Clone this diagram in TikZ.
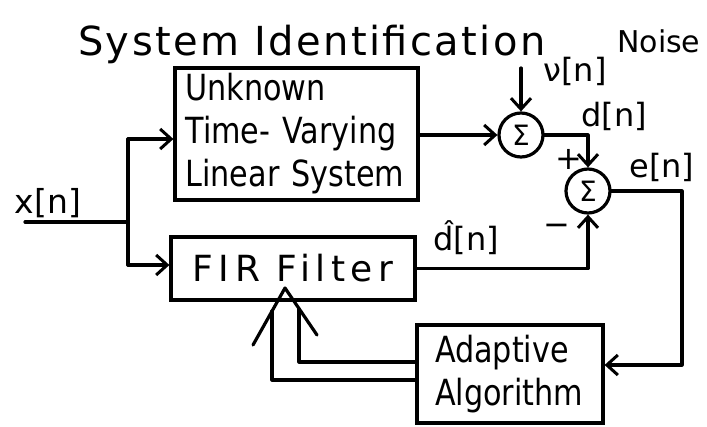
\documentclass[tikz,border=0pt]{standalone}
\usepackage{fontspec}
\setmainfont{DejaVu Sans}
\newfontfamily\narrowfont[FakeStretch=0.84]{DejaVu Sans}
\usetikzlibrary{arrows.meta}

\begin{document}
\begin{tikzpicture}[x=1pt,y=-1pt,
  wire/.style={line width=3.2pt, line cap=round, line join=round},
  flow/.style={wire, -{Straight Barb[length=11pt,width=20pt,line width=3pt]}},
  blockbox/.style={draw, line width=3.2pt, inner sep=0pt},
  sumnode/.style={draw, circle, line width=3.2pt, minimum size=44pt, inner sep=0pt,
    font=\fontsize{28}{28}\selectfont},
  lbl/.style={inner sep=0pt, font=\fontsize{32}{32}\selectfont},
  blocktext/.style={align=left, font=\narrowfont\fontsize{36}{43}\selectfont},
]
\useasboundingbox (0,0) rectangle (707,426);

% title and noise caption
\node[anchor=base west, inner sep=0pt,
  font=\fontsize{40}{40}\selectfont\addfontfeature{LetterSpace=6}] (title) at (78,55) {System Identification};
\node[inner sep=0pt, anchor=base west, font=\fontsize{30}{30}\selectfont] (noise) at (617,52) {Noise};

% blocks
\node[blockbox, blocktext, minimum width=243pt, minimum height=132pt, text width=222pt]
  (unk) at (296.5,134) {Unknown\\Time- Varying\\Linear System};
\node[blockbox, minimum width=244pt, minimum height=63pt,
  font=\fontsize{36}{36}\selectfont\addfontfeature{LetterSpace=15}] (fir) at (293,268.5) {FIR Filter};
\node[blockbox, blocktext, minimum width=186pt, minimum height=98pt, text width=150pt]
  (adapt) at (510,374) {Adaptive\\Algorithm};

% summing junctions
\node[sumnode] (s1) at (521,135) {Σ};
\node[sumnode] (s2) at (588,191) {Σ};

% signal labels
\node[lbl, font=\fontsize{33}{33}\selectfont] (xlbl) at (48,203) {x[n]};
\node[lbl] (nu) at (575,71) {ν[n]};
\node[lbl] (dl) at (614,116) {d[n]};
\node[lbl] (el) at (662,167) {e[n]};
\node[lbl, anchor=base] (dh) at (466,250) {\^{d}[n]};
\node[lbl] (plus) at (569,159) {+};
\node[lbl] (minus) at (557,230) {−};

% input and its split
\coordinate (xin) at (25,222);
\coordinate (split) at (128,222);
\coordinate (top) at (128,139);
\coordinate (bot) at (128,265);
\draw[wire] (xin) -- (split);
\draw[wire] (top) -- (bot);
\draw[flow] (top) -- (unk.west |- top);
\draw[flow] (bot) -- (fir.west |- bot);

% plant path with noise
\coordinate (nz) at (521,68);
\draw[flow] (nz) -- (s1.north);
\draw[flow] (unk.east |- s1.west) -- (s1.west);
\draw[flow] (s1.east) -| (s2.north);

% filter output into the error junction
\draw[flow] (fir.east) -| (s2.south);

% error to the adaptive algorithm
\coordinate (eturn) at (682,365);
\draw[flow] (s2.east) -| (eturn) -- (adapt.east |- eturn);

% coefficient update back into the filter
\coordinate (tip) at (285,288);
\coordinate (barbL) at (253,345);
\coordinate (barbR) at (317,335);
\coordinate (jL) at (272,311);
\coordinate (jR) at (299,309);
\coordinate (lowturn) at (272,380);
\coordinate (upturn) at (299,362);
\draw[wire] (barbL) -- (tip) -- (barbR);
\draw[wire] (adapt.west |- lowturn) -- (lowturn) -- (jL);
\draw[wire] (adapt.west |- upturn) -- (upturn) -- (jR);
\end{tikzpicture}
\end{document}
